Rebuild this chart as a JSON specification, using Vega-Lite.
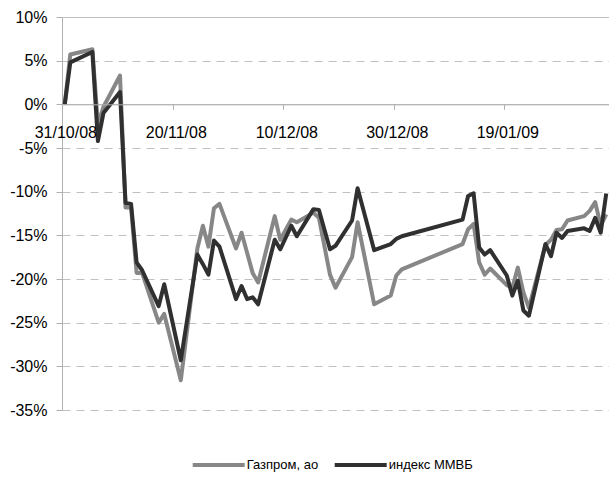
{
  "$schema": "https://vega.github.io/schema/vega-lite/v6.json",
  "width": 547,
  "height": 393,
  "autosize": {"type": "none"},
  "padding": {"left": 62, "top": 17, "right": 0, "bottom": 67},
  "background": "white",
  "config": {"view": {"stroke": null}, "font": "Liberation Sans"},
  "data": {
    "values": [
      {"date": "2008-10-31", "Газпром, ао": 0, "индекс ММВБ": 0},
      {"date": "2008-11-01", "Газпром, ао": 5.7, "индекс ММВБ": 4.8},
      {"date": "2008-11-05", "Газпром, ао": 6.3, "индекс ММВБ": 6.0},
      {"date": "2008-11-06", "Газпром, ао": -2.3, "индекс ММВБ": -4.2},
      {"date": "2008-11-07", "Газпром, ао": -0.3, "индекс ММВБ": -1.0},
      {"date": "2008-11-10", "Газпром, ао": 3.3, "индекс ММВБ": 1.4},
      {"date": "2008-11-11", "Газпром, ао": -11.8, "индекс ММВБ": -11.3},
      {"date": "2008-11-12", "Газпром, ао": -11.8, "индекс ММВБ": -11.4},
      {"date": "2008-11-13", "Газпром, ао": -19.3, "индекс ММВБ": -18.1},
      {"date": "2008-11-14", "Газпром, ао": -19.3, "индекс ММВБ": -19.0},
      {"date": "2008-11-17", "Газпром, ао": -25.0, "индекс ММВБ": -23.1},
      {"date": "2008-11-18", "Газпром, ао": -24.0, "индекс ММВБ": -20.6},
      {"date": "2008-11-21", "Газпром, ао": -31.6, "индекс ММВБ": -29.3},
      {"date": "2008-11-24", "Газпром, ао": -16.5, "индекс ММВБ": -17.2},
      {"date": "2008-11-25", "Газпром, ао": -13.9, "индекс ММВБ": -18.3},
      {"date": "2008-11-26", "Газпром, ао": -16.3, "индекс ММВБ": -19.5},
      {"date": "2008-11-27", "Газпром, ао": -11.9, "индекс ММВБ": -15.6},
      {"date": "2008-11-28", "Газпром, ао": -11.4, "индекс ММВБ": -16.3},
      {"date": "2008-12-01", "Газпром, ао": -16.5, "индекс ММВБ": -22.3},
      {"date": "2008-12-02", "Газпром, ао": -14.7, "индекс ММВБ": -20.8},
      {"date": "2008-12-03", "Газпром, ао": -17.0, "индекс ММВБ": -22.3},
      {"date": "2008-12-04", "Газпром, ао": -19.3, "индекс ММВБ": -22.1},
      {"date": "2008-12-05", "Газпром, ао": -20.4, "индекс ММВБ": -22.9},
      {"date": "2008-12-08", "Газпром, ао": -12.8, "индекс ММВБ": -15.5},
      {"date": "2008-12-09", "Газпром, ао": -15.5, "индекс ММВБ": -16.6},
      {"date": "2008-12-11", "Газпром, ао": -13.2, "индекс ММВБ": -13.9},
      {"date": "2008-12-12", "Газпром, ао": -13.5, "индекс ММВБ": -15.1},
      {"date": "2008-12-15", "Газпром, ао": -12.4, "индекс ММВБ": -12.0},
      {"date": "2008-12-16", "Газпром, ао": -13.0, "индекс ММВБ": -12.1},
      {"date": "2008-12-18", "Газпром, ао": -19.5, "индекс ММВБ": -16.6},
      {"date": "2008-12-19", "Газпром, ао": -21.0, "индекс ММВБ": -16.2},
      {"date": "2008-12-22", "Газпром, ао": -17.5, "индекс ММВБ": -13.3},
      {"date": "2008-12-23", "Газпром, ао": -13.5, "индекс ММВБ": -9.6},
      {"date": "2008-12-26", "Газпром, ао": -22.9, "индекс ММВБ": -16.7},
      {"date": "2008-12-29", "Газпром, ао": -21.9, "индекс ММВБ": -16.0},
      {"date": "2008-12-30", "Газпром, ао": -19.6, "индекс ММВБ": -15.4},
      {"date": "2008-12-31", "Газпром, ао": -18.9, "индекс ММВБ": -15.1},
      {"date": "2009-01-11", "Газпром, ао": -16.0, "индекс ММВБ": -13.2},
      {"date": "2009-01-12", "Газпром, ао": -14.3, "индекс ММВБ": -10.5},
      {"date": "2009-01-13", "Газпром, ао": -13.7, "индекс ММВБ": -10.2},
      {"date": "2009-01-14", "Газпром, ао": -18.1, "индекс ММВБ": -16.4},
      {"date": "2009-01-15", "Газпром, ао": -19.5, "индекс ММВБ": -17.2},
      {"date": "2009-01-16", "Газпром, ао": -18.8, "индекс ММВБ": -16.7},
      {"date": "2009-01-19", "Газпром, ао": -20.7, "индекс ММВБ": -19.6},
      {"date": "2009-01-20", "Газпром, ао": -21.0, "индекс ММВБ": -21.9},
      {"date": "2009-01-21", "Газпром, ао": -18.7, "индекс ММВБ": -20.2},
      {"date": "2009-01-22", "Газпром, ао": -21.5, "индекс ММВБ": -23.6},
      {"date": "2009-01-23", "Газпром, ао": -23.3, "индекс ММВБ": -24.2},
      {"date": "2009-01-26", "Газпром, ао": -16.1, "индекс ММВБ": -16.0},
      {"date": "2009-01-27", "Газпром, ао": -15.5, "индекс ММВБ": -17.4},
      {"date": "2009-01-28", "Газпром, ао": -14.4, "индекс ММВБ": -14.7},
      {"date": "2009-01-29", "Газпром, ао": -14.3, "индекс ММВБ": -15.3},
      {"date": "2009-01-30", "Газпром, ао": -13.3, "индекс ММВБ": -14.5},
      {"date": "2009-02-02", "Газпром, ао": -12.8, "индекс ММВБ": -14.2},
      {"date": "2009-02-03", "Газпром, ао": -12.2, "индекс ММВБ": -14.5},
      {"date": "2009-02-04", "Газпром, ао": -11.2, "индекс ММВБ": -13.0},
      {"date": "2009-02-05", "Газпром, ао": -13.9, "индекс ММВБ": -14.7},
      {"date": "2009-02-06", "Газпром, ао": -12.6, "индекс ММВБ": -10.2}
    ]
  },
  "transform": [{"fold": ["Газпром, ао", "индекс ММВБ"], "as": ["series", "value"]}],
  "mark": {"type": "line", "strokeWidth": 4, "strokeJoin": "round"},
  "encoding": {
    "x": {
      "field": "date",
      "type": "temporal",
      "scale": {
        "type": "utc",
        "domain": [
          {"year": 2008, "month": 10, "date": 30, "hours": 12, "utc": true},
          {"year": 2009, "month": 2, "date": 6, "hours": 12, "utc": true}
        ]
      },
      "axis": {
        "values": [
          {"year": 2008, "month": 10, "date": 31, "utc": true},
          {"year": 2008, "month": 11, "date": 20, "utc": true},
          {"year": 2008, "month": 12, "date": 10, "utc": true},
          {"year": 2008, "month": 12, "date": 30, "utc": true},
          {"year": 2009, "month": 1, "date": 19, "utc": true}
        ],
        "labelExpr": "utcFormat(datum.value, '%d/%m/%y')",
        "offset": -305.67,
        "grid": false,
        "title": null,
        "domainColor": "#b0b0b0",
        "tickColor": "#b0b0b0",
        "tickSize": 5,
        "tickOffset": -2.76,
        "labelOffset": 3.3,
        "labelFont": "Liberation Sans",
        "labelFontSize": 16,
        "labelColor": "#000000",
        "labelPadding": 15.5,
        "labelOverlap": false,
        "labelFlush": false,
        "labelBound": false,
        "zindex": 1
      }
    },
    "y": {
      "field": "value",
      "type": "quantitative",
      "scale": {"domain": [-35, 10], "nice": false, "zero": false},
      "axis": {
        "values": [-35, -30, -25, -20, -15, -10, -5, 0, 5, 10],
        "labelExpr": "datum.value + '%'",
        "title": null,
        "labelFont": "Liberation Sans",
        "labelFontSize": 16,
        "labelColor": "#000000",
        "tickSize": 6,
        "labelPadding": 9,
        "domainColor": "#b0b0b0",
        "tickColor": "#b0b0b0",
        "gridColor": "#c0c0c0",
        "gridDash": {"condition": {"test": "datum.value === 0 || datum.value === 10", "value": []}, "value": [8, 6]}
      }
    },
    "color": {
      "field": "series",
      "type": "nominal",
      "scale": {"domain": ["Газпром, ао", "индекс ММВБ"], "range": ["#878787", "#303030"]},
      "legend": {
        "orient": "none",
        "legendX": 128.7,
        "legendY": 420,
        "direction": "horizontal",
        "title": null,
        "symbolType": "stroke",
        "symbolSize": 2704,
        "symbolStrokeWidth": 4,
        "labelFont": "Liberation Sans",
        "labelFontSize": 13,
        "labelColor": "#000000",
        "labelOffset": 0,
        "columnPadding": 8,
        "padding": 0
      }
    }
  }
}
